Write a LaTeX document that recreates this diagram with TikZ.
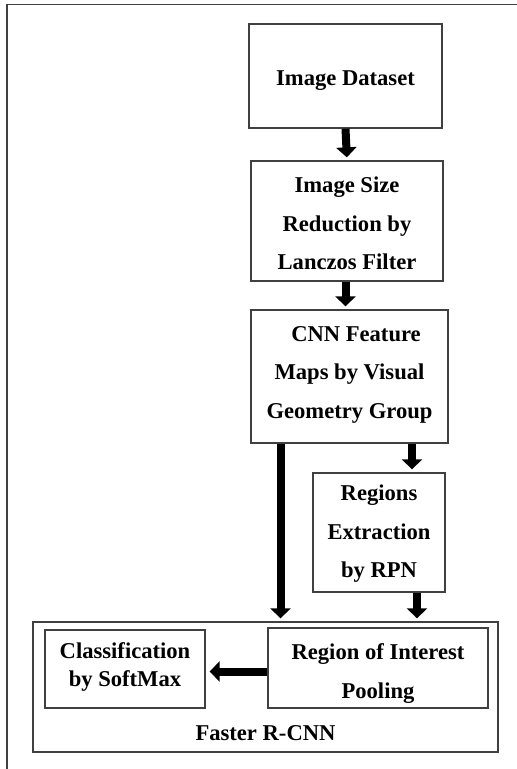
\documentclass[tikz,border=0pt]{standalone}
\usepackage{fontspec}
\setmainfont{Liberation Serif}
\usetikzlibrary{arrows.meta}
% centred stack of lines, moved up by #1 from the box centre
% (a tabular is centred on the math axis, 0.25em above the baseline)
\newcommand{\stacktext}[2]{\raisebox{\dimexpr#1-5.65pt\relax}[0pt][0pt]{\begin{tabular}{@{}c@{}}#2\end{tabular}}}
\begin{document}
\begin{tikzpicture}[x=1pt,y=-1pt,
  box/.style={draw=black!75, line width=1.3pt, inner sep=0pt,
    font=\fontsize{22.6}{38.5}\selectfont\bfseries},
  lbl/.style={inner sep=0pt, font=\fontsize{22.6}{27}\selectfont\bfseries},
  flow/.style={line width=8pt, -{Triangle[width=20pt,length=10pt]}, shorten >=3pt}]
\useasboundingbox (0,0) rectangle (517,769);
% outer frame (top and left edges)
\draw[black!75, line width=1.4pt] (517,4.5) -- (7,4.5) -- (7,769);

% pipeline boxes
\node[box, minimum width=193pt, minimum height=104pt] (ds) at (345.5,76)
  {\stacktext{-1pt}{Image Dataset}};
\node[box, minimum width=192pt, minimum height=120pt] (red) at (347,221)
  {\stacktext{-2pt}{Image Size\\Reduction by\\Lanczos Filter}};
\node[box, minimum width=197pt, minimum height=133pt] (cnn) at (349.5,376.5)
  {\stacktext{5pt}{\hspace*{13pt}CNN Feature\\Maps by Visual\\Geometry Group}};
\node[box, minimum width=132pt, minimum height=119pt] (rpn) at (379,532.5)
  {\stacktext{1.5pt}{Regions\\Extraction\\by RPN}};

% Faster R-CNN stage
\node[box, minimum width=465pt, minimum height=130pt] (frc) at (265.5,687) {};
\node[lbl] (frclbl) at (265.5,733) {Faster R-CNN};
\node[box, font=\fontsize{22.6}{28}\selectfont\bfseries,
  minimum width=160pt, minimum height=78pt] (cls) at (125,669)
  {\stacktext{3pt}{Classification\\by SoftMax}};
\node[box, minimum width=220pt, minimum height=80pt] (roi) at (378,668)
  {\stacktext{-3pt}{Region of Interest\\Pooling}};

% connectors
\coordinate (xa) at (280.5,0);
\coordinate (xb) at (412,0);
\coordinate (xc) at (417,0);
\draw[flow] (ds.south) -- (red.north);
\draw[flow] (red.south -| ds.south) -- (cnn.north -| ds.south);
\draw[flow] (xa |- cnn.south) -- (xa |- frc.north);
\draw[flow] (xb |- cnn.south) -- (xb |- rpn.north);
\draw[flow] (xc |- rpn.south) -- (xc |- frc.north);
\draw[flow, shorten >=4pt] ([yshift=-3.5pt]roi.west) -- ([yshift=-3.5pt]roi.west -| cls.east);
\end{tikzpicture}
\end{document}
